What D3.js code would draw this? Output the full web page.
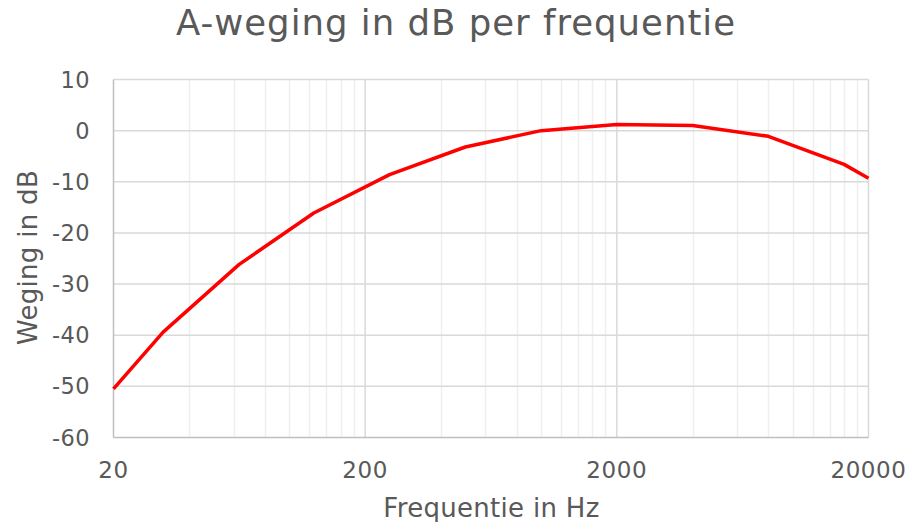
<!DOCTYPE html>
<html><head><meta charset="utf-8">
<script src="https://cdn.jsdelivr.net/npm/d3@7"></script>
<style>body{margin:0;background:#fff}svg{display:block}text{font-family:"DejaVu Sans",Verdana,sans-serif;fill:#595959}</style>
</head><body>
<script>
const frequencies = [20, 31.5, 63, 125, 250, 500, 1000, 2000, 4000, 8000, 16000, 20000];
const weighting = [-50.5, -39.4, -26.2, -16.1, -8.6, -3.2, 0, 1.2, 1.0, -1.1, -6.6, -9.3];
const xTicks = [20, 200, 2000, 20000];
const yTicks = [10, 0, -10, -20, -30, -40, -50, -60];
const title = "A-weging in dB per frequentie";
const xTitle = "Frequentie in Hz";
const yTitle = "Weging in dB";

const W = 909, H = 522;
const m = {l: 113.5, r: 868.5, t: 79.5, b: 437.5};
const svg = d3.select("body").append("svg").attr("width", W).attr("height", H);
const x = d3.scaleLog().domain([20, 20000]).range([m.l, m.r]);
const y = d3.scaleLinear().domain([-60, 10]).range([m.b, m.t]);

// minor vertical gridlines at 2..9 times each major
const minorLines = [];
xTicks.slice(0, -1).forEach(d => { for (let k = 2; k <= 9; k++) minorLines.push(d * k); });

svg.append("g").selectAll("line").data(minorLines).join("line")
  .attr("x1", d => Math.round(x(d)) + 0.5).attr("x2", d => Math.round(x(d)) + 0.5)
  .attr("y1", m.t).attr("y2", m.b).attr("stroke", "#efefef").attr("stroke-width", 1.5);

svg.append("g").selectAll("line").data(xTicks.slice(1)).join("line")
  .attr("x1", d => x(d)).attr("x2", d => x(d))
  .attr("y1", m.t).attr("y2", m.b).attr("stroke", "#d9d9d9").attr("stroke-width", 1.5);

svg.append("g").selectAll("line").data(yTicks.slice(0, -1)).join("line")
  .attr("x1", m.l).attr("x2", m.r).attr("y1", d => y(d)).attr("y2", d => y(d))
  .attr("stroke", "#d9d9d9").attr("stroke-width", 1.5);

// axes lines
svg.append("line").attr("x1", m.l).attr("x2", m.l).attr("y1", m.t).attr("y2", m.b).attr("stroke", "#bfbfbf").attr("stroke-width", 1.5);
svg.append("line").attr("x1", m.l).attr("x2", m.r).attr("y1", m.b).attr("y2", m.b).attr("stroke", "#bfbfbf").attr("stroke-width", 1.5);

// line
svg.append("path").datum(frequencies.map((f, i) => [f, weighting[i]]))
  .attr("fill", "none").attr("stroke", "#ff0000").attr("stroke-width", 3.5)
  .attr("stroke-linejoin", "round")
  .attr("d", d3.line().x(d => x(d[0])).y(d => y(d[1])));

// tick labels
svg.append("g").selectAll("text").data(yTicks).join("text")
  .attr("x", 90).attr("y", d => y(d) + 8).attr("text-anchor", "end")
  .attr("font-size", 22.5).attr("letter-spacing", 0.4).text(d => d);
svg.append("g").selectAll("text").data(xTicks).join("text")
  .attr("x", d => x(d)).attr("y", 478).attr("text-anchor", "middle")
  .attr("font-size", 23).attr("letter-spacing", 0.6).text(d => d);

svg.append("text").attr("x", 456).attr("y", 35).attr("text-anchor", "middle")
  .attr("font-size", 35.5).attr("letter-spacing", 1.0).text(title);
svg.append("text").attr("x", 491.5).attr("y", 517).attr("text-anchor", "middle")
  .attr("font-size", 26).attr("letter-spacing", 0.3).text(xTitle);
svg.append("text").attr("transform", "translate(36.5,257.5) rotate(-90)").attr("text-anchor", "middle")
  .attr("font-size", 26).attr("letter-spacing", 0.3).text(yTitle);
</script>
</body></html>
